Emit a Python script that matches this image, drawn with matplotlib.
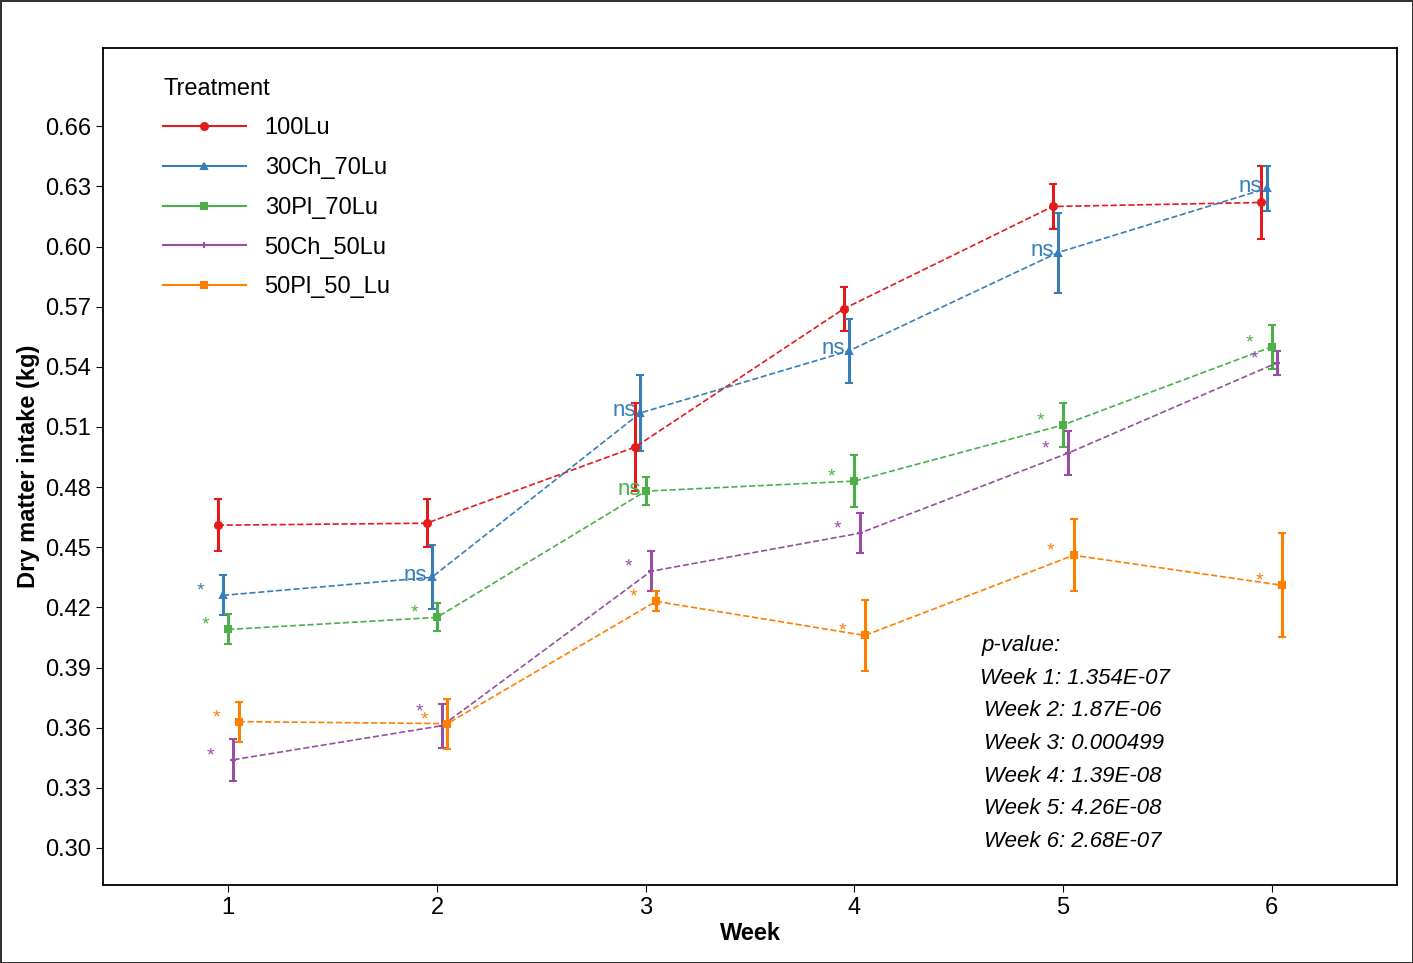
import numpy as np
import matplotlib.pyplot as plt
from matplotlib.lines import Line2D

plt.rcParams['font.family'] = ['Liberation Sans', 'DejaVu Sans']

weeks = np.array([1, 2, 3, 4, 5, 6])
treatments = ['100Lu', '30Ch_70Lu', '30Pl_70Lu', '50Ch_50Lu', '50Pl_50_Lu']
means = {
    '100Lu':      [0.461, 0.462, 0.500, 0.569, 0.620, 0.622],
    '30Ch_70Lu':  [0.426, 0.435, 0.517, 0.548, 0.597, 0.629],
    '30Pl_70Lu':  [0.409, 0.415, 0.478, 0.483, 0.511, 0.550],
    '50Ch_50Lu':  [0.344, 0.361, 0.438, 0.457, 0.497, 0.542],
    '50Pl_50_Lu': [0.363, 0.362, 0.423, 0.406, 0.446, 0.431],
}
errs = {
    '100Lu':      [0.013, 0.012, 0.022, 0.011, 0.011, 0.018],
    '30Ch_70Lu':  [0.010, 0.016, 0.019, 0.016, 0.020, 0.011],
    '30Pl_70Lu':  [0.0075, 0.007, 0.007, 0.013, 0.011, 0.011],
    '50Ch_50Lu':  [0.0105, 0.011, 0.010, 0.010, 0.011, 0.006],
    '50Pl_50_Lu': [0.010, 0.0125, 0.005, 0.0175, 0.018, 0.026],
}
signif = {
    '100Lu':      ['', '', '', '', '', ''],
    '30Ch_70Lu':  ['*', 'ns', 'ns', 'ns', 'ns', 'ns'],
    '30Pl_70Lu':  ['*', '*', 'ns', '*', '*', '*'],
    '50Ch_50Lu':  ['*', '*', '*', '*', '*', '*'],
    '50Pl_50_Lu': ['*', '*', '*', '*', '*', '*'],
}
pvals = ['1.354E-07', '1.87E-06', '0.000499', '1.39E-08', '4.26E-08', '2.68E-07']

colors = ['#E41A1C', '#377EB8', '#4DAF4A', '#984EA3', '#FF7F00']
markers = ['o', '^', 's', '+', 's']
offsets = [-0.05, -0.025, 0.0, 0.025, 0.05]

fig = plt.figure(figsize=(14.13, 9.63), dpi=100)
fig.patch.set_edgecolor('#333333')
fig.patch.set_linewidth(2)
ax = fig.add_axes([0.0729, 0.081, 0.9158, 0.869])

handles = []
for name, c, m, off in zip(treatments, colors, markers, offsets):
    x = weeks + off
    y = np.array(means[name])
    ax.errorbar(x, y, yerr=errs[name], color=c, marker=m, ms=5, mew=1.5,
                ls='--', lw=1.2, elinewidth=2.2, capsize=3, capthick=2)
    handles.append(Line2D([], [], color=c, marker=m, ms=5, mew=1.5, lw=1.5, label=name))
    for k, (xi, yi, s) in enumerate(zip(x, y, signif[name])):
        if s == 'ns':
            ax.text(xi - 0.02, yi + 0.001, s, color=c, fontsize=16, ha='right', va='center')
        elif s:
            dy = 0.007 if (name == '50Ch_50Lu' and k == 1) else 0.002
            ax.text(xi - 0.09, yi + dy, s, color=c, fontsize=14, ha='right', va='center')

ax.text(4.61, 0.398, 'p-value:', fontsize=16, style='italic')
for i, p in enumerate(pvals):
    ax.text(4.6 + (0 if i == 0 else 0.02), 0.382 - i * 0.0163,
            'Week %d: %s' % (i + 1, p), fontsize=16, style='italic')

ax.set_xlim(0.4, 6.6)
ax.set_ylim(0.2815, 0.699)
ax.set_xticks(weeks)
ax.set_yticks(np.arange(0.30, 0.661, 0.03))
ax.yaxis.set_major_formatter(plt.FormatStrFormatter('%.2f'))
ax.tick_params(labelsize=17, length=5)
ax.set_xlabel('Week', fontsize=17, fontweight='bold', labelpad=2)
ax.set_ylabel('Dry matter intake (kg)', fontsize=17, fontweight='bold')
for sp in ax.spines.values():
    sp.set_linewidth(1.3)

ax.legend(handles=handles, loc='upper left', title='Treatment', fontsize=17, title_fontsize=17,
          frameon=False, handlelength=3.5, bbox_to_anchor=(0.03, 0.99),
          alignment='left', labelspacing=0.75)

fig.savefig('out.png', dpi=100, edgecolor=fig.get_edgecolor())
